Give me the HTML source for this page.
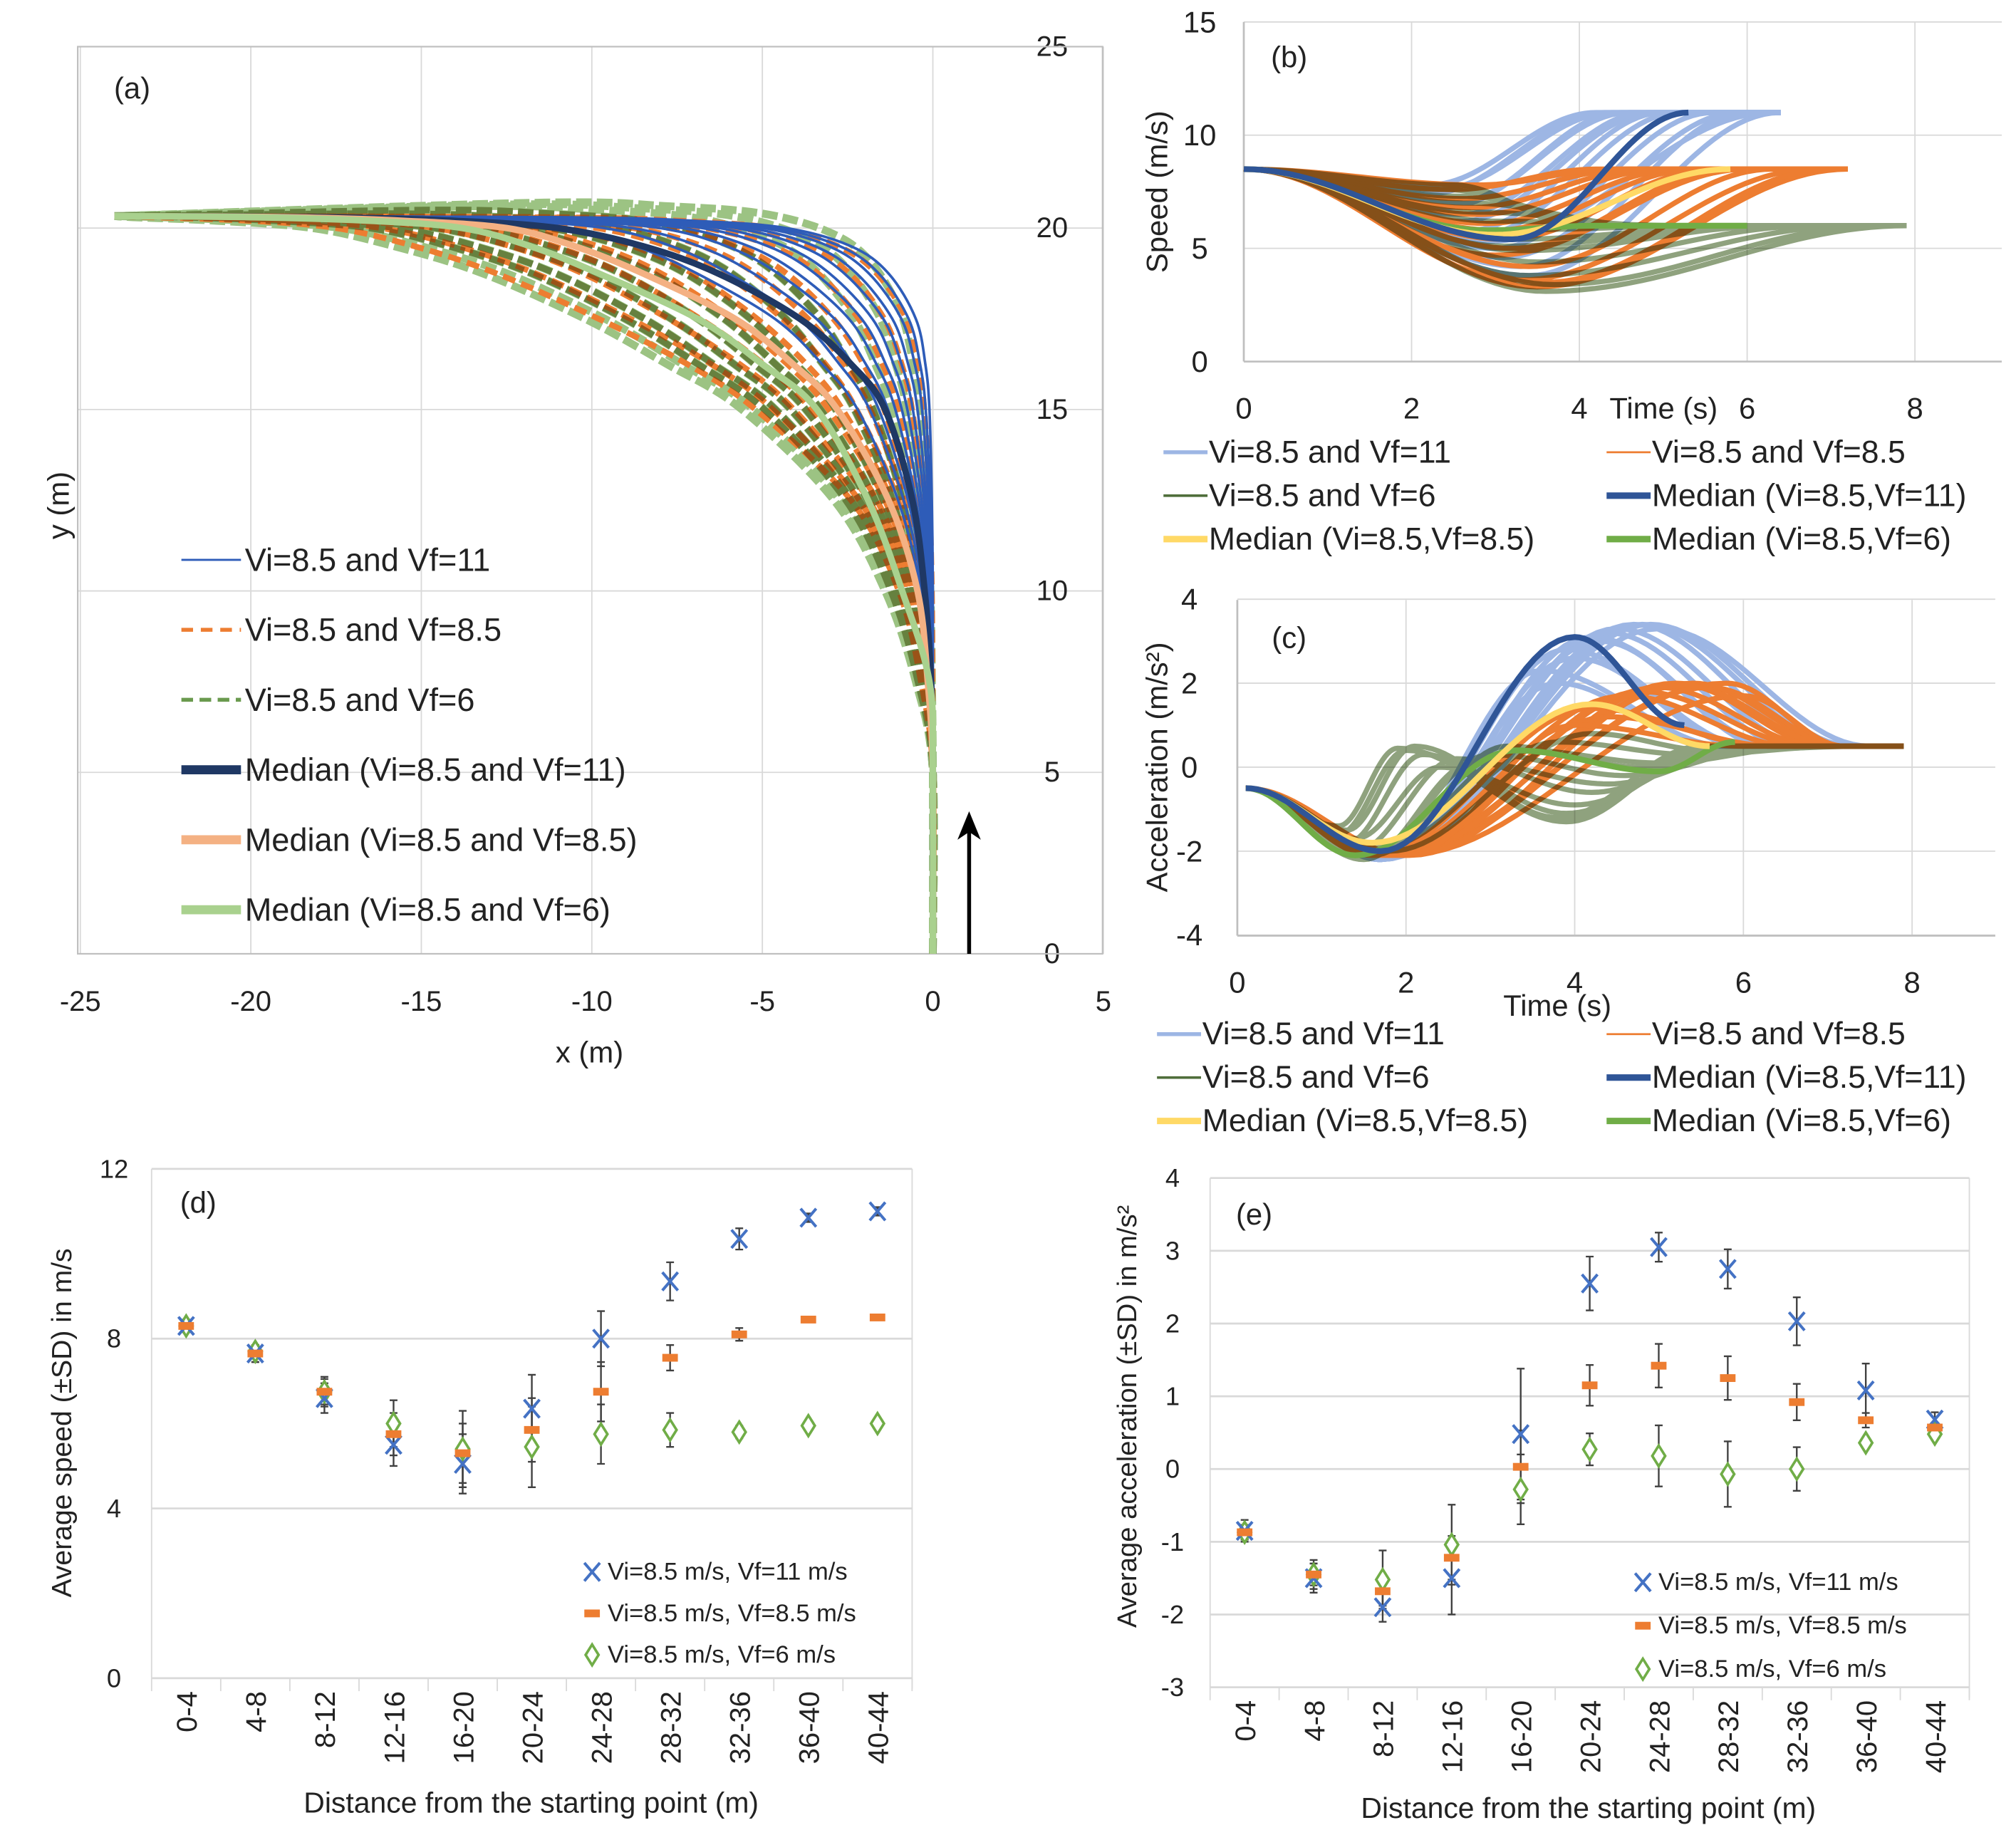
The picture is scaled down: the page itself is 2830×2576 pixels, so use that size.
<!DOCTYPE html>
<html><head><meta charset="utf-8"><style>
html,body{margin:0;padding:0;background:#fff;}
svg{display:block;}
text{font-family:"Liberation Sans",sans-serif;fill:#222;}
</style></head><body>
<svg id="fig" width="2830" height="2576" viewBox="0 0 1556 1416" preserveAspectRatio="none" xmlns="http://www.w3.org/2000/svg"></svg>
<script>
// ---------- Panel (a) data: x (m) of trajectory profiles at common y levels (m)
const profY=[5,7.5,10,12.5,15,16.25,17.5,18.75,19.5,20,20.2,20.3];
const profBlueInner=[0,0,0,-0.03,-0.1,-0.22,-0.5,-1.3,-2.4,-4.3,-7,-11];
const profOrangeOuter=[0,-0.35,-1.0,-2.4,-5.2,-7.2,-9.8,-12.8,-15.2,-17.5,-20,-23];
const profGreenOuter=[0,-0.5,-1.4,-2.9,-5.6,-7.8,-10.2,-13.2,-15.8,-18.2,-21,-23.5];
const medNavy=[0,-0.05,-0.24,-0.6,-1.4,-2.4,-3.9,-6.3,-8.5,-11,-14,-18];
const medOrange=[0,-0.15,-0.45,-1.3,-2.8,-4.1,-5.8,-8.5,-10.5,-12.5,-15.5,-19];
const medGreen=[0,-0.1,-0.9,-1.9,-3.4,-5.0,-6.9,-9.8,-11.8,-13.8,-16.5,-20];
// bundle weights between inner profile and the bundle's outer profile
const blueW=[0,0.04,0.08,0.13,0.18,0.24,0.3,0.37,0.45,0.55,0.65,0.78];
const orangeW=[0.03,0.1,0.18,0.26,0.34,0.42,0.5,0.58,0.68,0.78,0.9,1.0];
const greenW=[0.05,0.12,0.2,0.3,0.4,0.5,0.58,0.66,0.74,0.82,0.88,0.94,1.0];
const greenLift=[0.4,0.35,0.3,0.2,0.1,0,0,0,0,0,0,0,0];
const xTicksA=[-25,-20,-15,-10,-5,0,5];
const yTicksA=[0,5,10,15,20,25];

// ---------- Panel (b) speed: bundles [tMin, vMin, tEnd]
const spBlueTm=[2.2,2.4,2.6,2.8,3.0,2.5,2.7,3.1,2.3,2.9,3.3,2.6,3.4,2.2];
const spBlueVm=[7.4,6.8,6.2,5.6,5.0,7.0,5.8,4.6,7.6,5.3,4.2,6.5,3.8,7.8];
const spBlueTe=[4.3,4.6,4.9,5.2,5.6,4.5,5.0,5.9,4.4,6.3,6.0,4.8,6.4,4.2];
const spOrTm=[2.6,2.8,3.0,3.2,3.4,2.7,3.1,3.3,2.9,3.5,2.5,3.0,3.6,2.8];
const spOrVm=[7.2,6.5,5.8,5.0,4.2,6.8,5.4,3.6,6.1,3.3,7.6,4.7,3.5,7.8];
const spOrTe=[4.6,5.0,5.4,5.8,6.3,4.8,5.6,6.8,5.2,7.2,4.2,6.0,7.0,4.4];
const spGrTm=[2.4,2.7,3.0,3.2,3.5,2.6,2.9,3.4,3.6,3.3,2.5,3.1,2.8,3.7];
const spGrVm=[7.6,7.0,6.2,5.4,4.4,7.3,5.8,3.8,3.1,4.9,7.8,5.1,6.6,3.4];
const spGrTe=[4.2,4.8,5.4,6.0,6.8,4.5,5.7,7.3,7.9,6.4,4.0,6.2,5.0,7.6];
const spBlueVf=11, spOrVf=8.5, spGrVf=6;
const medSpBlue=[[0,8.5],[3.2,5.4],[5.3,11]];
const medSpYellow=[[0,8.5],[3.0,5.6],[5.8,8.5]];
const medSpGreen=[[0,8.5],[2.9,5.8],[4.2,6.0],[6.0,6.0]];
const yTicksB=[0,5,10,15];
const xTicksB=[0,2,4,6,8];

// ---------- Panel (c) acceleration: bundles [tPeak, aPeak, tEnd]
const acBlueTp=[3.6,3.9,4.2,4.5,4.8,5.0,4.0,4.4,3.8,4.7,4.3,4.9];
const acBlueAp=[2.3,2.8,3.1,3.3,3.4,3.3,2.6,3.2,2.0,3.4,3.0,3.4];
const acBlueTe=[5.8,6.1,6.4,6.8,7.2,7.5,6.0,6.6,5.6,7.0,6.3,7.3];
const acOrTp=[4.2,4.6,5.0,5.4,5.8,4.4,4.8,5.2,5.6,6.0,4.0,5.3];
const acOrAp=[1.4,1.7,1.9,2.0,2.0,1.2,1.8,2.0,1.9,1.7,1.0,1.95];
const acOrTe=[6.3,6.6,6.9,7.2,7.2,6.4,6.8,7.0,7.2,7.2,6.0,7.1];
const acGrT1=[1.2,1.3,1.4,1.5,1.6,1.7,1.3,1.5,1.8,1.4,1.6,1.2];
const acGrA1=[-1.6,-1.8,-2.0,-2.1,-2.0,-1.9,-1.5,-2.2,-2.0,-1.7,-2.1,-1.4];
const acGrT2=[2.0,2.2,2.6,3.0,3.4,3.8,2.1,2.8,4.2,2.4,3.2,1.9];
const acGrA2=[0.4,0.3,0.2,0.3,0.4,0.6,0.5,0.1,0.8,0.0,0.5,0.45];
const acGrT3=[3.9,3.9,4.2,4.6,5.0,5.4,3.8,4.4,5.6,4.0,4.8,3.9];
const acGrA3=[-1.3,-1.1,-0.6,-0.2,0.1,0.3,-1.2,-0.4,0.4,-0.9,0.0,-1.25];
const acGrTe=[5.6,5.8,6.0,6.4,6.8,7.2,5.5,6.2,7.5,5.9,6.6,5.6];
const medAcBlue=[[0.1,-0.5],[1.7,-2.0],[4.0,3.1],[5.3,1.0]];
const medAcYellow=[[0.1,-0.5],[1.6,-1.8],[4.2,1.5],[5.6,0.5]];
const medAcGreen=[[0.1,-0.5],[1.4,-2.1],[3.3,0.4],[5.0,-0.1],[5.9,0.6]];
const yTicksC=[-4,-2,0,2,4];
const xTicksC=[0,2,4,6,8];

// ---------- Panels (d),(e)
const cats=["0-4","4-8","8-12","12-16","16-20","20-24","24-28","28-32","32-36","36-40","40-44"];
const spdBlue=[8.3,7.65,6.6,5.5,5.05,6.35,8.0,9.35,10.35,10.85,11.0];
const spdBlueSD=[0.15,0.2,0.35,0.5,0.7,0.8,0.65,0.45,0.25,0.1,0.1];
const spdOr=[8.3,7.65,6.75,5.75,5.3,5.85,6.75,7.55,8.1,8.45,8.5];
const spdOrSD=[0.1,0.2,0.35,0.5,0.7,0.75,0.7,0.3,0.15,0.05,0.05];
const spdGr=[8.3,7.7,6.75,6.0,5.4,5.45,5.75,5.85,5.8,5.95,6.0];
const spdGrSD=[0.1,0.15,0.3,0.55,0.9,0.95,0.7,0.4,0.15,0.1,0.1];
const yTicksD=[0,4,8,12];
const accBlue=[-0.85,-1.5,-1.9,-1.5,0.48,2.55,3.05,2.75,2.03,1.08,0.68];
const accBlueSD=[0.15,0.2,0.2,0.5,0.9,0.37,0.2,0.27,0.33,0.37,0.1];
const accOr=[-0.87,-1.45,-1.68,-1.22,0.03,1.15,1.42,1.25,0.92,0.67,0.57];
const accOrSD=[0.1,0.15,0.2,0.3,0.5,0.28,0.3,0.3,0.25,0.1,0.05];
const accGr=[-0.87,-1.45,-1.52,-1.04,-0.28,0.27,0.18,-0.07,0.0,0.36,0.48];
const accGrSD=[0.1,0.2,0.4,0.55,0.48,0.22,0.42,0.45,0.3,0.05,0.05];
const yTicksE=[-3,-2,-1,0,1,2,3,4];

const NS="http://www.w3.org/2000/svg";
const svg=document.getElementById('fig');
function mk(tag,attrs,name,parent){
  const e=document.createElementNS(NS,tag);
  for(const k in attrs)e.setAttribute(k,attrs[k]);
  
  
  (parent||svg).appendChild(e);return e;
}
function txt(x,y,s,size,name,opt){
  opt=opt||{};
  const t=mk('text',{x:x,y:y,'font-size':size,'text-anchor':opt.anchor||'middle','dominant-baseline':'central'},name,opt.parent);
  if(opt.rot)t.setAttribute('transform','rotate('+opt.rot+' '+x+' '+y+')');
  t.textContent=s;return t;
}
function poly(pts){return pts.map((p,i)=>(i?'L':'M')+p[0].toFixed(2)+' '+p[1].toFixed(2)).join(' ');}
function cosInterp(knots,n){
  const out=[];
  for(let i=0;i<knots.length-1;i++){
    const [t0,v0]=knots[i],[t1,v1]=knots[i+1];
    for(let j=0;j<=n;j++){const s=j/n;out.push([t0+(t1-t0)*s,v0+(v1-v0)*(1-Math.cos(Math.PI*s))/2]);}
  }
  return out;
}
function catmull(P){
  let d='M'+P[0][0].toFixed(2)+' '+P[0][1].toFixed(2);
  for(let i=0;i<P.length-1;i++){
    const p0=P[Math.max(0,i-1)],p1=P[i],p2=P[i+1],p3=P[Math.min(P.length-1,i+2)];
    const c1=[p1[0]+(p2[0]-p0[0])/6,p1[1]+(p2[1]-p0[1])/6],c2=[p2[0]-(p3[0]-p1[0])/6,p2[1]-(p3[1]-p1[1])/6];
    d+=' C'+c1.map(v=>v.toFixed(2)).join(' ')+' '+c2.map(v=>v.toFixed(2)).join(' ')+' '+p2[0].toFixed(2)+' '+p2[1].toFixed(2);
  }
  return d;
}

// ================= Panel (a)
const ax=v=>720+(v)*26.32, ay=v=>736-v*28;
const ga=mk('g',{},'panel-a');
xTicksA.forEach(v=>{mk('line',{x1:ax(v),y1:36,x2:ax(v),y2:736,stroke:'#d9d9d9','stroke-width':1},'x-gridline-a',ga);txt(ax(v),773,String(v),22,'x-tick-label-a',{parent:ga});});
yTicksA.forEach(v=>{mk('line',{x1:60,y1:ay(v),x2:851,y2:ay(v),stroke:'#d9d9d9','stroke-width':1},'y-gridline-a',ga);txt(812,ay(v),String(v),22,'y-tick-label-a',{parent:ga});});
mk('rect',{x:60,y:36,width:791,height:700,fill:'none',stroke:'#bfbfbf','stroke-width':1.2},'plot-frame-a',ga);
function trajPath(xs,lift){
  lift=lift||0;
  const P=[[ax(0),ay(0)]];
  xs.forEach((x,i)=>{const y=profY[i];const l=y>15?lift*Math.min(1,(y-15)/3.75):0;P.push([ax(x),ay(y+l)]);});
  P.push([ax(-24),ay(20.33)]);
  return catmull(P);
}
const blend=(a,b,w)=>a.map((v,i)=>v*(1-w)+b[i]*w);
const gGrA=mk('g',{},'trajectories-vf6',ga);
greenW.forEach((w,i)=>mk('path',{d:trajPath(blend(profBlueInner,profGreenOuter,w),greenLift[i]),fill:'none',stroke:'#9cc383','stroke-width':6,'stroke-dasharray':'12 4'},'trajectory-vf6',gGrA));
const gOrA=mk('g',{},'trajectories-vf8.5',ga);
orangeW.forEach(w=>mk('path',{d:trajPath(blend(profBlueInner,profOrangeOuter,w)),fill:'none',stroke:'#ED7D31','stroke-width':4.5,'stroke-dasharray':'10 5'},'trajectory-vf8.5',gOrA));
const gOl=mk('g',{style:'mix-blend-mode:multiply'},'trajectories-vf6-overlay',ga);
greenW.forEach((w,i)=>{if(i>2&&i<11)mk('path',{d:trajPath(blend(profBlueInner,profGreenOuter,w),greenLift[i]),fill:'none',stroke:'#a6a97a','stroke-width':5,'stroke-dasharray':'12 4'},'trajectory-vf6',gOl);});
const gBlA=mk('g',{},'trajectories-vf11',ga);
blueW.forEach(w=>mk('path',{d:trajPath(blend(profBlueInner,medOrange,w)),fill:'none',stroke:'#2E5CB8','stroke-width':2},'trajectory-vf11',gBlA));
mk('path',{d:trajPath(medNavy),fill:'none',stroke:'#1F3864','stroke-width':5},'median-trajectory-vf11',ga);
mk('path',{d:trajPath(medOrange),fill:'none',stroke:'#F4B183','stroke-width':5},'median-trajectory-vf8.5',ga);
mk('path',{d:trajPath(medGreen),fill:'none',stroke:'#A9D18E','stroke-width':5},'median-trajectory-vf6',ga);
mk('line',{x1:748,y1:736,x2:748,y2:640,stroke:'#000','stroke-width':3},'direction-arrow',ga);
mk('path',{d:'M739 648 L748 626 L757 648 L748 642 Z',fill:'#000'},'direction-arrowhead',ga);
txt(102,68,'(a)',23,'panel-label-a',{parent:ga});
txt(455,812,'x (m)',23,'x-axis-title-a',{parent:ga});
txt(45,390,'y (m)',23,'y-axis-title-a',{parent:ga,rot:-90});
const legA=[['Vi=8.5 and Vf=11','#2E5CB8',1.6,''],['Vi=8.5 and Vf=8.5','#ED7D31',3,'9 6'],['Vi=8.5 and Vf=6','#6a9a4e',3,'9 5'],['Median (Vi=8.5 and Vf=11)','#1F3864',7,''],['Median (Vi=8.5 and Vf=8.5)','#F4B183',7,''],['Median (Vi=8.5 and Vf=6)','#A9D18E',7,'']];
legA.forEach((r,i)=>{const y=432+i*54;const g=mk('g',{},'legend-entry-a',ga);
  mk('line',{x1:140,y1:y,x2:186,y2:y,stroke:r[1],'stroke-width':r[2],'stroke-dasharray':r[3]},'legend-line',g);
  txt(189,y,r[0],24.8,'legend-text',{parent:g,anchor:'start'});});

// ================= Panel (b)
const bx=t=>960+t*64.75, by=v=>279-v*17.47;
const gb=mk('g',{},'panel-b');
xTicksB.forEach(v=>{mk('line',{x1:bx(v),y1:17,x2:bx(v),y2:279,stroke:'#d9d9d9'},'x-gridline-b',gb);});
yTicksB.forEach(v=>{mk('line',{x1:960,y1:by(v),x2:1545,y2:by(v),stroke:'#d9d9d9'},'y-gridline-b',gb);txt(926,by(v),String(v),23,'y-tick-label-b',{parent:gb});});
mk('line',{x1:960,y1:17,x2:960,y2:279,stroke:'#bfbfbf','stroke-width':1.5},'y-axis-b',gb);
mk('line',{x1:960,y1:279,x2:1545,y2:279,stroke:'#bfbfbf','stroke-width':1.5},'x-axis-b',gb);
xTicksB.forEach(v=>txt(bx(v),315,String(v),23,'x-tick-label-b',{parent:gb}));
txt(1284,315,'Time (s)',23,'x-axis-title-b',{parent:gb});
txt(893,148,'Speed (m/s)',23,'y-axis-title-b',{parent:gb,rot:-90});
txt(995,44,'(b)',23,'panel-label-b',{parent:gb});
function spCurve(tm,vm,te,vf,ts){const k=[[0,8.5],[tm,vm],[te,vf]];if(ts>te)k.push([ts,vf]);return poly(cosInterp(k,30).map(p=>[bx(p[0]),by(p[1])]));}
const gBlB=mk('g',{},'speed-curves-vf11',gb);
spBlueTm.forEach((tm,i)=>mk('path',{d:spCurve(tm,spBlueVm[i],spBlueTe[i],spBlueVf,6.4),fill:'none',stroke:'#9db6e4','stroke-width':4},'speed-curve-vf11',gBlB));
const gOrB=mk('g',{},'speed-curves-vf8.5',gb);
spOrTm.forEach((tm,i)=>mk('path',{d:spCurve(tm,spOrVm[i],spOrTe[i],spOrVf,7.2),fill:'none',stroke:'#ED7D31','stroke-width':4},'speed-curve-vf8.5',gOrB));
const gGrB=mk('g',{style:'mix-blend-mode:multiply'},'speed-curves-vf6',gb);
spGrTm.forEach((tm,i)=>mk('path',{d:spCurve(tm,spGrVm[i],spGrTe[i],spGrVf,7.9),fill:'none',stroke:'#8fa27e','stroke-width':4},'speed-curve-vf6',gGrB));
[[medSpGreen,'#70AD47','median-speed-vf6'],[medSpYellow,'#FFD966','median-speed-vf8.5'],[medSpBlue,'#2F5597','median-speed-vf11']].forEach(m=>{
  mk('path',{d:poly(cosInterp(m[0],30).map(p=>[bx(p[0]),by(p[1])])),fill:'none',stroke:m[1],'stroke-width':4.5},m[2],gb);});
function legend2(y0,x0,parent,suffix){
  const rows=[['Vi=8.5 and Vf=11','#9db6e4',3,x0,0],['Vi=8.5 and Vf=8.5','#ED7D31',1.5,1240,0],['Vi=8.5 and Vf=6','#4f6e3b',2,x0,1],['Median (Vi=8.5,Vf=11)','#2F5597',5,1240,1],['Median (Vi=8.5,Vf=8.5)','#FFD966',5,x0,2],['Median (Vi=8.5,Vf=6)','#70AD47',5,1240,2]];
  rows.forEach(r=>{const y=y0+r[4]*33.5;const g=mk('g',{},'legend-entry-'+suffix,parent);
    mk('line',{x1:r[3],y1:y,x2:r[3]+34,y2:y,stroke:r[1],'stroke-width':r[2]},'legend-line',g);
    txt(r[3]+35,y,r[0],24.5,'legend-text',{parent:g,anchor:'start'});});
}
legend2(349,898,gb,'b');

// ================= Panel (c)
const cx=t=>955+t*65.1, cy=v=>592-v*32.4;
const gc=mk('g',{},'panel-c');
xTicksC.forEach(v=>{mk('line',{x1:cx(v),y1:463,x2:cx(v),y2:722,stroke:'#d9d9d9'},'x-gridline-c',gc);txt(cx(v),758,String(v),23,'x-tick-label-c',{parent:gc});});
yTicksC.forEach(v=>{mk('line',{x1:955,y1:cy(v),x2:1540,y2:cy(v),stroke:'#d9d9d9'},'y-gridline-c',gc);txt(918,cy(v),String(v),23,'y-tick-label-c',{parent:gc});});
mk('line',{x1:955,y1:463,x2:955,y2:722,stroke:'#bfbfbf','stroke-width':1.5},'y-axis-c',gc);
mk('line',{x1:955,y1:722,x2:1540,y2:722,stroke:'#bfbfbf','stroke-width':1.5},'x-axis-c',gc);
txt(1202,776,'Time (s)',23,'x-axis-title-c',{parent:gc});
txt(893,592,'Acceleration (m/s²)',23,'y-axis-title-c',{parent:gc,rot:-90});
txt(995,492,'(c)',23,'panel-label-c',{parent:gc});
const cP=k=>poly(cosInterp(k,24).map(p=>[cx(p[0]),cy(p[1])]));
const gBlC=mk('g',{},'accel-curves-vf11',gc);
acBlueTp.forEach((tp,i)=>mk('path',{d:cP([[0.1,-0.5],[1.7,-2.2],[tp,acBlueAp[i]],[acBlueTe[i],0.5],[7.9,0.5]]),fill:'none',stroke:'#9db6e4','stroke-width':4},'accel-curve-vf11',gBlC));
const gOrC=mk('g',{},'accel-curves-vf8.5',gc);
acOrTp.forEach((tp,i)=>mk('path',{d:cP([[0.1,-0.5],[1.6+i*0.04,-2.1],[tp,acOrAp[i]],[acOrTe[i],0.5],[7.9,0.5]]),fill:'none',stroke:'#ED7D31','stroke-width':4},'accel-curve-vf8.5',gOrC));
const gGrC=mk('g',{style:'mix-blend-mode:multiply'},'accel-curves-vf6',gc);
acGrT1.forEach((t1,i)=>mk('path',{d:cP([[0.1,-0.5],[t1,acGrA1[i]],[acGrT2[i],acGrA2[i]],[acGrT3[i],acGrA3[i]],[acGrTe[i],0.5],[7.9,0.5]]),fill:'none',stroke:'#8fa27e','stroke-width':4},'accel-curve-vf6',gGrC));
[[medAcGreen,'#70AD47','median-accel-vf6'],[medAcYellow,'#FFD966','median-accel-vf8.5'],[medAcBlue,'#2F5597','median-accel-vf11']].forEach(m=>{
  mk('path',{d:cP(m[0]),fill:'none',stroke:m[1],'stroke-width':4.5},m[2],gc);});
legend2(798,893,gc,'c');

// ================= scatter panels helper
function marker(g,type,x,y){
  if(type==='x'){mk('path',{d:`M${x-6} ${y-7} L${x+6} ${y+7} M${x+6} ${y-7} L${x-6} ${y+7}`,stroke:'#4472C4','stroke-width':2.2,fill:'none'},'marker-vf11',g);}
  else if(type==='dash'){mk('rect',{x:x-6,y:y-3,width:12,height:6,fill:'#ED7D31'},'marker-vf8.5',g);}
  else{mk('path',{d:`M${x} ${y-8} L${x+5} ${y} L${x} ${y+8} L${x-5} ${y} Z`,stroke:'#70AD47','stroke-width':2,fill:'#fff'},'marker-vf6',g);}
}
function scatterPanel(o){
  const g=mk('g',{},o.name);
  const X=i=>o.x0+(i+0.5)*o.step, Y=v=>o.yb-(v-o.ymin)*o.k;
  o.ticks.forEach(v=>{mk('line',{x1:o.x0,y1:Y(v),x2:o.x1,y2:Y(v),stroke:'#d9d9d9','stroke-width':1.5},'y-gridline',g);txt(o.tx,Y(v),String(v),20,'y-tick-label',{parent:g});});
  mk('line',{x1:o.x1,y1:Y(o.ticks[o.ticks.length-1]),x2:o.x1,y2:o.yb+8,stroke:'#d9d9d9'},'plot-right-border',g);
  mk('line',{x1:o.x0,y1:Y(o.ticks[o.ticks.length-1]),x2:o.x0,y2:o.yb,stroke:'#d9d9d9'},'plot-left-border',g);
  for(let i=0;i<=cats.length;i++)mk('line',{x1:o.x0+i*o.step,y1:o.yb,x2:o.x0+i*o.step,y2:o.yb+10,stroke:'#d9d9d9'},'x-tick-mark',g);
  cats.forEach((c,i)=>txt(X(i)+1,o.yb+10,c,22,'x-tick-label',{parent:g,anchor:'end',rot:-90}));
  const series=[[o.gr,o.grSD,'d'],[o.bl,o.blSD,'x'],[o.or,o.orSD,'dash']];
  series.forEach(s=>{s[0].forEach((v,i)=>{const x=X(i);
    mk('path',{d:`M${x} ${Y(v-s[1][i])} L${x} ${Y(v+s[1][i])} M${x-3} ${Y(v-s[1][i])} L${x+3} ${Y(v-s[1][i])} M${x-3} ${Y(v+s[1][i])} L${x+3} ${Y(v+s[1][i])}`,stroke:'#404040','stroke-width':1.3,fill:'none'},'error-bar',g);});});
  series.forEach(s=>s[0].forEach((v,i)=>marker(g,s[2],X(i),Y(v))));
  txt(o.lx,o.ly,o.label,23,'panel-label',{parent:g});
  txt(o.xtx,o.xty,'Distance from the starting point (m)',22.5,'x-axis-title',{parent:g});
  txt(o.ytx,o.yty,o.ytitle,o.ysz,'y-axis-title',{parent:g,rot:-90});
  const lg=[['x','Vi=8.5 m/s, Vf=11 m/s'],['dash','Vi=8.5 m/s, Vf=8.5 m/s'],['d','Vi=8.5 m/s, Vf=6 m/s']];
  lg.forEach((r,i)=>{const y=o.legY+i*o.legDy;const e=mk('g',{},'legend-entry',g);marker(e,r[0],o.legX,y);txt(o.legX+12,y,r[1],19,'legend-text',{parent:e,anchor:'start'});});
}
scatterPanel({name:'panel-d',x0:117,x1:704,step:53.36,yb:1295,ymin:0,k:32.75,ticks:yTicksD,tx:88,
  bl:spdBlue,blSD:spdBlueSD,or:spdOr,orSD:spdOrSD,gr:spdGr,grSD:spdGrSD,label:'(d)',lx:153,ly:928,
  xtx:410,xty:1391,ytx:48,yty:1098,ysz:21.5,ytitle:'Average speed (±SD) in m/s',legX:457,legY:1213,legDy:32});
scatterPanel({name:'panel-e',x0:934,x1:1520,step:53.27,yb:1302,ymin:-3,k:56.14,ticks:yTicksE,tx:905,
  bl:accBlue,blSD:accBlueSD,or:accOr,orSD:accOrSD,gr:accGr,grSD:accGrSD,label:'(e)',lx:968,ly:937,
  xtx:1226,xty:1395,ytx:870,yty:1093,ysz:21,ytitle:'Average acceleration (±SD) in m/s²',legX:1268,legY:1221,legDy:33.5});
</script>
</body></html>
